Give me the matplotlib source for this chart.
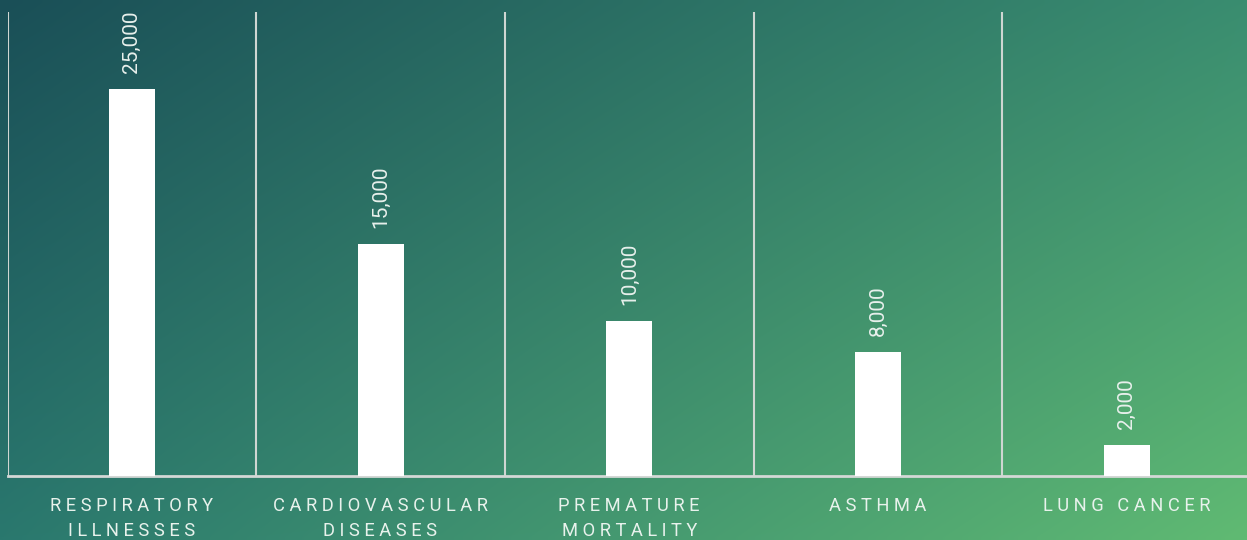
import numpy as np
import matplotlib.pyplot as plt
from matplotlib.colors import to_rgb

categories = ["RESPIRATORY\nILLNESSES", "CARDIOVASCULAR\nDISEASES",
              "PREMATURE\nMORTALITY", "ASTHMA", "LUNG CANCER"]
values = [25000, 15000, 10000, 8000, 2000]
value_labels = ["25,000", "15,000", "10,000", "8,000", "2,000"]

plt.rcParams["font.family"] = ["Roboto", "DejaVu Sans"]

W, H = 1247, 540
fig = plt.figure(figsize=(W / 100, H / 100), dpi=100)

# background: bilinear gradient between four corner colours
tl, tr = np.array(to_rgb("#1a4f57")), np.array(to_rgb("#3a8d70"))
bl, br = np.array(to_rgb("#2a786e")), np.array(to_rgb("#60ba73"))
gx = np.linspace(0, 1, 200)[None, :, None]
gy = np.linspace(0, 1, 100)[:, None, None]
grad = (1 - gy) * ((1 - gx) * tl + gx * tr) + gy * ((1 - gx) * bl + gx * br)
bg = fig.add_axes([0, 0, 1, 1])
bg.imshow(grad, aspect="auto", extent=[0, 1, 0, 1], interpolation="bilinear")
bg.axis("off")


def spaced(s):
    lines = []
    for line in s.split("\n"):
        words = [" ".join(w) for w in line.split(" ")]
        lines.append("   ".join(words))
    return "\n".join(lines)


ax = fig.add_axes([7.5 / W, 64 / H, 1243.5 / W, 464 / H])
ax.patch.set_alpha(0)
x = np.arange(len(categories))
ax.bar(x, values, width=0.185, color="white", zorder=3)

for xi, v, lab in zip(x, values, value_labels):
    ax.annotate(lab, (xi, v), xytext=(0, 11.5), textcoords="offset points",
                rotation=90, ha="center", va="bottom", fontsize=15,
                color="#e8f0ec")

ax.set_xlim(-0.5, 4.5)
ax.set_ylim(0, 30000)
ax.set_xticks(x, [spaced(c) for c in categories], fontsize=13.2,
              color="#e8f2ec", linespacing=1.5)
ax.tick_params(axis="x", length=0, pad=15)
ax.set_yticks([])
for b in np.arange(-0.5, 4.5, 1):
    ax.axvline(b, color="#cfd6d2", lw=1.5, zorder=1)
for side in ["top", "right", "left"]:
    ax.spines[side].set_visible(False)
ax.spines["bottom"].set_color("#d4d8d6")
ax.spines["bottom"].set_linewidth(2)

fig.savefig("out.png", dpi=100)
